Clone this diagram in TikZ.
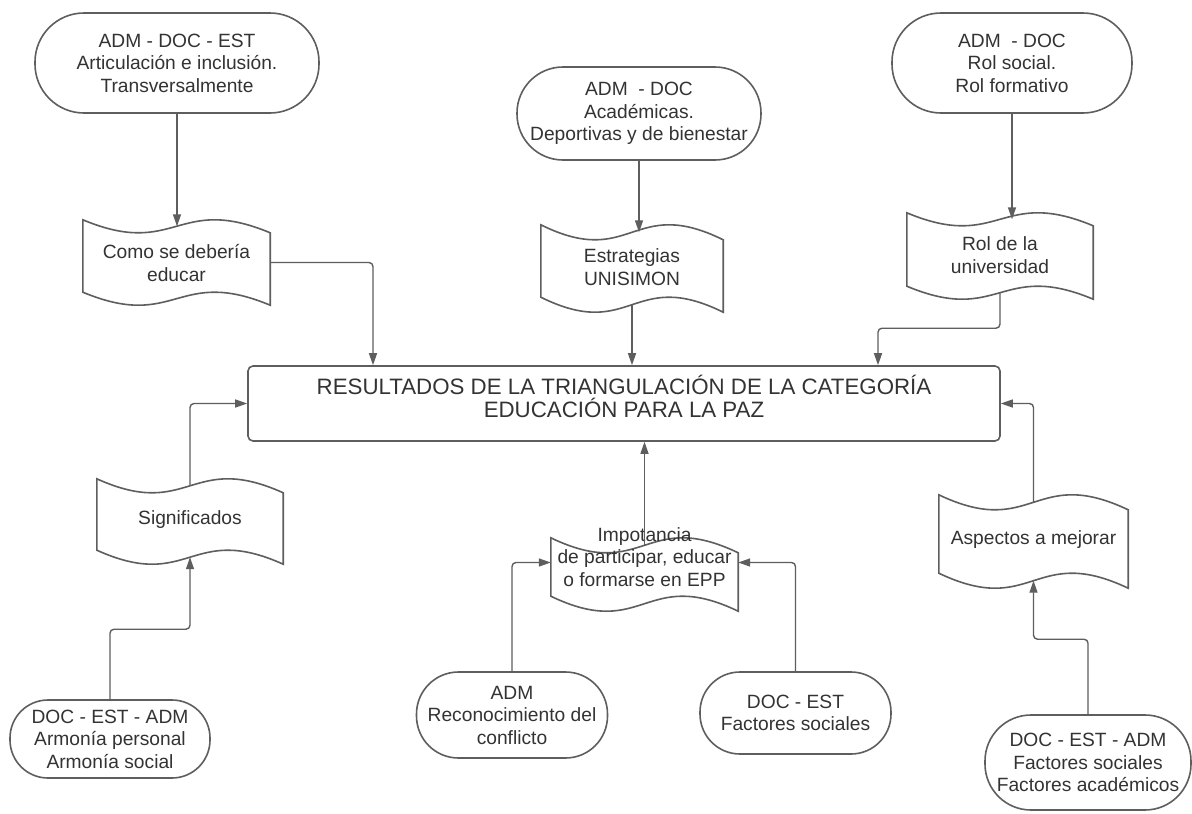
\documentclass[tikz,border=0pt]{standalone}
\usepackage{fontspec}
\setmainfont{Liberation Sans}
\usetikzlibrary{arrows.meta,calc}
\definecolor{linec}{HTML}{5E5E5E}
\definecolor{textc}{HTML}{333333}
\tikzset{
  term/.style={rectangle, draw=linec, line width=1.6pt, fill=white, text=textc,
    align=center, font=\fontsize{19.2}{22.5}\selectfont, inner sep=0pt},
  tapebox/.style={rectangle, draw=none, inner sep=0pt},
  tapetext/.style={text=textc, align=center, font=\fontsize{19.2}{22.5}\selectfont, inner sep=0pt},
  shapeline/.style={draw=linec, line width=1.6pt, fill=white},
  conn/.style={draw=linec, line width=1.4pt, rounded corners=4pt,
    -{Triangle[length=12pt,width=8pt]}},
  mainbox/.style={rectangle, rounded corners=5pt, draw=linec, line width=1.6pt, fill=white},
}
% #1 name, #2 half wave depth, #3 control offset (2.5 d)
\newcommand\tapeoutline[3]{%
  \draw[shapeline] ($(#1.north west)+(0pt,#2)$)
    .. controls ($(#1.north)+(0pt,-#3)$) and ($(#1.north)+(0pt,#3)$) .. ($(#1.north east)+(0pt,-#2)$)
    -- ($(#1.south east)+(0pt,-#2)$)
    .. controls ($(#1.south)+(0pt,#3)$) and ($(#1.south)+(0pt,-#3)$) .. ($(#1.south west)+(0pt,#2)$)
    -- cycle;}
\begin{document}
\begin{tikzpicture}[x=1pt,y=-1pt]
\useasboundingbox (0,0) rectangle (1192,814);
\fill[white] (0,0) rectangle (1192,814);

% top terminators
\node[term, minimum width=284pt, minimum height=100pt, rounded corners=49pt] (T1) at (177,63)
  {ADM - DOC - EST\\Articulación e inclusión.\\Transversalmente};
\node[term, minimum width=244pt, minimum height=93pt, rounded corners=46pt] (T2) at (639,113.5)
  {ADM\ \ - DOC\\Académicas.\\Deportivas y de bienestar};
\node[term, minimum width=240pt, minimum height=100pt, rounded corners=49pt] (T3) at (1012,63)
  {ADM\ \ - DOC\\Rol social.\\Rol formativo};

% main box
\node[mainbox, minimum width=752pt, minimum height=75pt] (main) at (624,403.5) {};
\node[tapetext, font=\fontsize{22.3}{23}\selectfont] (maintext) at (624,396.5)
  {RESULTADOS DE LA TRIANGULACIÓN DE LA CATEGORÍA\\EDUCACIÓN PARA LA PAZ};

% tapes
\node[tapebox, minimum width=187pt, minimum height=72pt] (como) at (176.5,262.5) {};
\tapeoutline{como}{6.5pt}{32.5pt}
\node[tapetext] (comoT) at (176.5,263) {Como se debería\\educar};

\node[tapebox, minimum width=182pt, minimum height=72pt] (estr) at (632,268.5) {};
\tapeoutline{estr}{7.5pt}{37.5pt}
\node[tapetext] (estrT) at (632,267) {Estrategias\\UNISIMON};

\node[tapebox, minimum width=186pt, minimum height=73pt] (rol) at (1000,256) {};
\tapeoutline{rol}{6.5pt}{32.5pt}
\node[tapetext] (rolT) at (1000,255) {Rol de la\\universidad};

\node[tapebox, minimum width=186pt, minimum height=71pt] (sig) at (190,521.5) {};
\tapeoutline{sig}{7pt}{35pt}
\node[tapetext] (sigT) at (190,520) {Significados};

\node[tapebox, minimum width=187pt, minimum height=58pt] (imp) at (644.5,574.5) {};
\tapeoutline{imp}{7.5pt}{37.5pt}
\node[tapetext] (impT) at (644.5,557) {Impotancia\\de participar, educar\\o formarse en EPP};

\node[tapebox, minimum width=189pt, minimum height=78pt] (asp) at (1033.5,541.5) {};
\tapeoutline{asp}{7.5pt}{37.5pt}
\node[tapetext] (aspT) at (1033.5,540) {Aspectos a mejorar};

% bottom terminators
\node[term, minimum width=200pt, minimum height=78pt, rounded corners=38pt] (B1) at (110,739)
  {DOC - EST - ADM\\Armonía personal\\Armonía social};
\node[term, minimum width=191pt, minimum height=86pt, rounded corners=42pt] (B2a) at (512,715)
  {ADM\\Reconocimiento del\\conflicto};
\node[term, minimum width=191pt, minimum height=82pt, rounded corners=40pt] (B2b) at (795.5,713)
  {DOC - EST\\Factores sociales};
\node[term, minimum width=206pt, minimum height=95pt, rounded corners=46pt] (B3) at (1088,762.5)
  {DOC - EST - ADM\\Factores sociales\\Factores académicos};

% connectors
\draw[conn] (T1.south) -- (T1.south |- como.north);
\draw[conn] (como.east) -| ([xshift=-251pt]main.north);
\draw[conn] (T2.south) -- (T2.south |- estr.north);
\draw[conn] (estr.south) -- (estr.south |- main.north);
\draw[conn] (T3.south) -- (T3.south |- rol.north);
\draw[conn] (rol.south) -- ++(0,35.5) -| ([xshift=254pt]main.north);
\draw[conn] (B1.north) -- ++(0,-70) -| (sig.south);
\draw[conn] (sig.north) |- (main.west);
\draw[conn] (B2a.north) |- ([yshift=12pt]imp.west);
\draw[conn] (B2b.north) |- ([yshift=12pt]imp.east);
\draw[conn] (imp.north) -- (imp.north |- main.south);
\draw[conn] (B3.north) -- ++(0,-75) -| (asp.south);
\draw[conn] (asp.north) |- (main.east);
\end{tikzpicture}
\end{document}
